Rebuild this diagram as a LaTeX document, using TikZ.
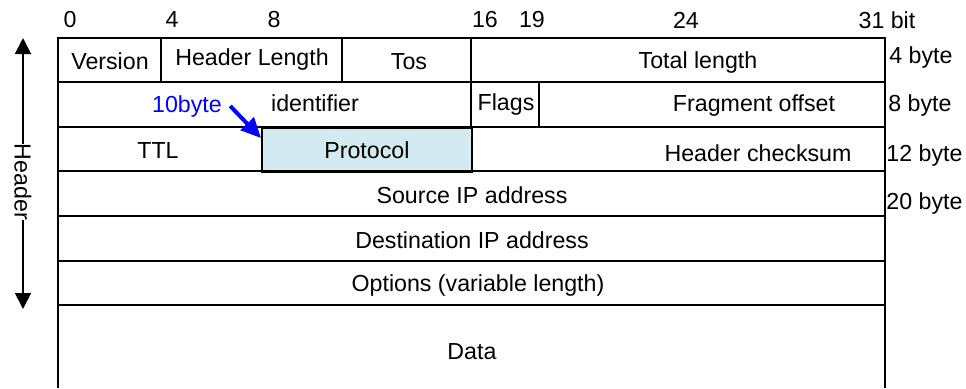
\documentclass[tikz,border=0pt]{standalone}
\usepackage{fontspec}
\setmainfont{Liberation Sans}
\usetikzlibrary{arrows.meta}
\definecolor{protofill}{HTML}{D3EBF0}
\tikzset{
    lbl/.style={font=\fontsize{11.6}{14}\selectfont, inner sep=1pt},
    grid/.style={line width=0.9pt},
}

\begin{document}
\begin{tikzpicture}[x=0.5pt, y=-0.5pt]
    \useasboundingbox (0,0) rectangle (966,388);
    % protocol field
    \node[grid, draw, fill=protofill, anchor=north west, minimum width=105pt, minimum height=22pt, lbl] (protocol) at (261,127) {Protocol};
    % frame
    \draw[grid] (58,388) -- (58,38) -- (885,38) -- (885,388);
    \draw[grid] (58,82) -- (885,82);
    \draw[grid] (58,127) -- (885,127);
    \draw[grid] (58,171) -- (885,171);
    \draw[grid] (58,216) -- (885,216);
    \draw[grid] (58,261) -- (885,261);
    \draw[grid] (58,305) -- (885,305);
    \draw[grid] (161,38) -- (161,82);
    \draw[grid] (342,38) -- (342,82);
    \draw[grid] (471,38) -- (471,127);
    \draw[grid] (539,82) -- (539,127);
    % bit numbers
    \node[lbl] (b0) at (70,20) {0};
    \node[lbl] (b4) at (172,20) {4};
    \node[lbl] (b8) at (274,20) {8};
    \node[lbl] (b16) at (485,20) {16};
    \node[lbl] (b19) at (532,20) {19};
    \node[lbl] (b24) at (686,20) {24};
    \node[lbl] (b31) at (887,20) {31 bit};
    % fields
    \node[lbl] (version) at (110,61) {Version};
    \node[lbl] (hlen) at (252,59) {Header Length};
    \node[lbl] (tos) at (409,62) {Tos};
    \node[lbl] (total) at (698,62) {Total length};
    \node[lbl] (ident) at (315,103) {identifier};
    \node[lbl] (flags) at (506,104) {Flags};
    \node[lbl] (frag) at (754,106) {Fragment offset};
    \node[lbl] (ttl) at (158,151) {TTL};
    \node[lbl] (checksum) at (758,153) {Header checksum};
    \node[lbl] (src) at (472,195) {Source IP address};
    \node[lbl] (dst) at (472,240) {Destination IP address};
    \node[lbl] (opts) at (478,285) {Options (variable length)};
    \node[lbl] (data) at (472,352) {Data};
    % byte offsets
    \node[lbl, anchor=west] (o4) at (887,57) {4 byte};
    \node[lbl, anchor=west] (o8) at (886,105) {8 byte};
    \node[lbl, anchor=west] (o12) at (884,155) {12 byte};
    \node[lbl, anchor=west] (o20) at (884,203) {20 byte};
    % 10byte pointer
    \node[lbl, text=blue] (tenbyte) at (187,106) {10byte};
    \coordinate (tip) at (261,138);
    \draw[blue, line width=2pt, -{Triangle[length=10pt, width=9pt]}] (tenbyte.east) ++(3pt,0) -- (tip);
    % header span
    \node[lbl, rotate=-90, inner sep=0pt] (header) at (23,182) {Header};
    \coordinate (htop) at (23,38);
    \coordinate (hbot) at (23,309);
    \draw[line width=0.9pt, -{Triangle[length=8pt, width=8pt]}] (header.west) -- (htop);
    \draw[line width=0.9pt, -{Triangle[length=8pt, width=8pt]}] (header.east) -- (hbot);
\end{tikzpicture}
\end{document}
